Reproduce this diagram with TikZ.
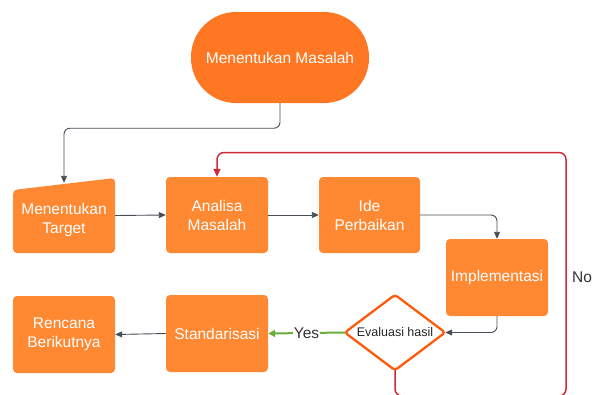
\documentclass[tikz,border=0pt]{standalone}
\usepackage{fontspec}
\setmainfont{Liberation Sans}
\usetikzlibrary{arrows.meta}
\definecolor{boxor}{HTML}{FF8833}
\definecolor{termor}{HTML}{FF7722}
\definecolor{diaor}{HTML}{FF5A0A}
\definecolor{lnk}{HTML}{474D57}
\definecolor{nored}{HTML}{CC2A3A}
\definecolor{yesgr}{HTML}{6AAE3C}
\tikzset{
  stepbox/.style={rectangle, rounded corners=4pt, fill=boxor, text=white, align=center,
    font=\fontsize{15.5}{19}\selectfont, minimum width=102pt, minimum height=76pt, inner sep=0pt},
  termbox/.style={rectangle, rounded corners=45pt, fill=termor, text=white,
    font=\fontsize{15.5}{19}\selectfont, minimum width=178pt, minimum height=91pt, inner sep=0pt},
  ghost/.style={rectangle, minimum width=#1, inner sep=0pt},
  boxtext/.style={text=white, align=center, font=\fontsize{15.5}{19}\selectfont, inner sep=0pt},
  conn/.style={draw=lnk, line width=0.9pt, rounded corners=6pt, -{Triangle[length=7pt,width=6pt]}},
  noconn/.style={draw=nored, line width=1.5pt, rounded corners=7pt, -{Triangle[length=8pt,width=7pt]}},
  yesconn/.style={draw=yesgr, line width=2pt, -{Triangle[length=7pt,width=7pt]}},
  lbl/.style={text=black!80, font=\fontsize{15.5}{19}\selectfont, inner sep=1pt}
}
\begin{document}
\begin{tikzpicture}[x=1pt,y=-1pt]
\useasboundingbox (0,0) rectangle (593,394);
\clip (0,0) rectangle (593,394);

% nodes
\node[termbox] (mm) at (280,57.5) {Menentukan Masalah};

\node[ghost=102pt, minimum height=75pt] (target) at (64,215.5) {};
\fill[boxor, rounded corners=4pt] (13,253) -- (115,253) -- (115,178) -- (13,190) -- cycle;
\node[boxtext] (targettext) at (64,220) {Menentukan\\Target};

\node[stepbox] (analisa) at (217,215) {Analisa\\Masalah};
\node[stepbox, minimum width=101pt] (ide) at (369.5,215) {Ide\\Perbaikan};
\node[stepbox, minimum height=77pt] (impl) at (497,277.5) {Implementasi};

\node[ghost=100pt, minimum height=75pt] (eval) at (395,332.5) {};
\draw[diaor, line width=2.3pt, fill=white, rounded corners=3pt]
  (eval.north) -- (eval.east) -- (eval.south) -- (eval.west) -- cycle;
\node[text=black!85, font=\fontsize{12.5}{15}\selectfont, inner sep=0pt] (evaltext) at (eval.center) {Evaluasi hasil};

\node[stepbox, minimum height=77pt] (stand) at (217,333.5) {Standarisasi};
\node[stepbox, minimum height=77pt] (renc) at (64,334.5) {Rencana\\Berikutnya};

% connectors
\draw[conn] (mm.south) -- ++(0,25) -| ([yshift=-5pt]target.north);
\draw[conn] (target.east) -- (analisa.west);
\draw[conn] (analisa.east) -- (ide.west);
\draw[conn] (ide.east) -| (impl.north);
\draw[conn] (impl.south) |- (eval.east);
\draw[conn] (stand.west) -- (renc.east);

\draw[yesconn] (eval.west) -- node[lbl, fill=white, pos=0.5] (yes) {Yes} (stand.east);

\coordinate (nobl) at (395,396);
\coordinate (nobr) at (566,396);
\coordinate (notr) at (566,152.5);
\coordinate (notl) at (217,152.5);
\draw[noconn] (eval.south) -- (nobl) -- (nobr) -- (notr) -- (notl) -- (analisa.north);
\node[lbl, anchor=west] (no) at (571,277) {No};
\end{tikzpicture}
\end{document}
